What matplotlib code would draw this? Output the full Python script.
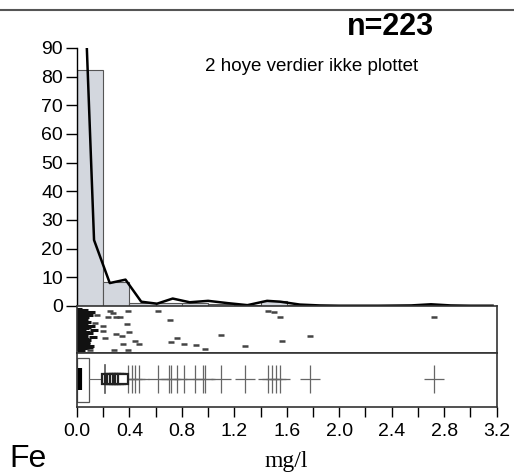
import numpy as np
import matplotlib.pyplot as plt

plt.rcParams["font.family"] = ["Liberation Sans", "DejaVu Sans"]

# ---- data ----
bin_edges = [0.0, 0.2, 0.4, 0.6, 0.8, 1.0, 1.2, 1.4, 1.6, 1.8, 2.0, 2.2, 2.4, 2.6, 2.8, 3.0, 3.2]
bin_pct = [82.5, 8.5, 1.2, 1.0, 1.0, 0.6, 0.4, 1.7, 0.4, 0.0, 0.0, 0.0, 0.0, 0.4, 0.0, 0.0]

dens_x = [0.075, 0.13, 0.25, 0.37, 0.49, 0.61, 0.73, 0.86, 1.0, 1.15, 1.3,
          1.45, 1.55, 1.7, 1.85, 2.0, 2.3, 2.55, 2.7, 2.85, 3.0, 3.17]
dens_y = [90, 23, 8, 9.2, 1.5, 0.8, 2.6, 1.3, 1.8, 1.0, 0.3,
          1.8, 1.5, 0.5, 0.2, 0.1, 0.1, 0.2, 0.6, 0.2, 0.1, 0.1]

# strip plot: dense cluster near zero + scattered higher values (x, jitter y)
cluster_x = [0.01, 0.02, 0.03, 0.05, 0.02, 0.04, 0.07, 0.01, 0.03, 0.06,
             0.09, 0.02, 0.04, 0.01, 0.05, 0.08, 0.03, 0.02, 0.06, 0.11,
             0.01, 0.04, 0.07, 0.03, 0.02, 0.05, 0.09, 0.01, 0.03, 0.06,
             0.12, 0.02, 0.04, 0.08, 0.01, 0.05, 0.03, 0.07, 0.02, 0.10,
             0.04, 0.01, 0.06, 0.03, 0.09, 0.02, 0.05, 0.13, 0.01, 0.04,
             0.07, 0.03, 0.02, 0.08, 0.05, 0.01, 0.04, 0.06, 0.02, 0.11,
             0.01, 0.02, 0.01, 0.03, 0.02, 0.01, 0.04, 0.02, 0.01, 0.03]
cluster_y = [0.97, 0.93, 0.90, 0.95, 0.86, 0.82, 0.88, 0.79, 0.75, 0.78,
             0.84, 0.71, 0.68, 0.64, 0.62, 0.66, 0.58, 0.55, 0.52, 0.57,
             0.49, 0.46, 0.44, 0.41, 0.38, 0.36, 0.40, 0.33, 0.30, 0.27,
             0.32, 0.24, 0.21, 0.25, 0.18, 0.15, 0.12, 0.16, 0.09, 0.11,
             0.06, 0.03, 0.05, 0.02, 0.07, 0.60, 0.72, 0.48, 0.92, 0.35,
             0.20, 0.85, 0.14, 0.56, 0.29, 0.44, 0.68, 0.10, 0.77, 0.91,
             0.88, 0.81, 0.70, 0.63, 0.51, 0.43, 0.34, 0.26, 0.17, 0.08]
strip_x = [0.25, 0.277, 0.39, 0.62, 0.15, 0.24, 0.30, 0.33, 0.14, 0.20,
           0.38, 0.71, 0.20, 0.30, 0.34, 0.40, 0.21, 0.44, 0.35, 0.47,
           0.76, 0.72, 0.82, 0.91, 0.28, 0.39, 0.98, 0.10, 1.46, 1.50,
           1.55, 1.10, 1.78, 1.56, 1.28, 2.72]
strip_y = [0.94, 0.89, 0.93, 0.93, 0.84, 0.78, 0.79, 0.80, 0.64, 0.57,
           0.62, 0.73, 0.47, 0.39, 0.35, 0.44, 0.30, 0.22, 0.15, 0.15,
           0.30, 0.20, 0.16, 0.13, 0.02, 0.02, 0.04, 0.02, 0.94, 0.91,
           0.78, 0.37, 0.35, 0.22, 0.11, 0.79]

# boxplot
box_lo, box_hi, box_med = 0.0, 0.094, 0.02
whisker_hi = 0.21
near_out = [0.23, 0.25, 0.27, 0.29, 0.31, 0.33, 0.35]
far_out = [0.39, 0.42, 0.44, 0.47, 0.62, 0.70, 0.72, 0.76, 0.82, 0.90,
           0.96, 0.98, 1.10, 1.28, 1.46, 1.49, 1.52, 1.55, 1.78, 2.72]

x_ticks = np.arange(0, 3.21, 0.2)
x_labels = [f"{t:.1f}" if i % 2 == 0 else "" for i, t in enumerate(x_ticks)]
y_ticks = list(range(0, 91, 10))

# ---- figure ----
fig = plt.figure(figsize=(5.14, 4.74), dpi=100)
L, W = 77 / 514, 419.5 / 514

ax_h = fig.add_axes([L, 1 - 306 / 474, W, 258 / 474])
ax_s = fig.add_axes([L, 1 - 352.5 / 474, W, 46.5 / 474])
ax_b = fig.add_axes([L, 1 - 406.7 / 474, W, 54.2 / 474])

# histogram + density line
ax_h.bar(bin_edges[:-1], bin_pct, width=0.2, align="edge",
         color="#d3d7de", edgecolor="#555555", linewidth=0.8)
ax_h.plot(dens_x, dens_y, color="black", lw=1.8, solid_joinstyle="round")
ax_h.set_xlim(0, 3.2)
ax_h.set_ylim(0, 90)
ax_h.set_yticks(y_ticks)
ax_h.tick_params(axis="y", direction="out", length=8, width=1, labelsize=14, pad=2)
ax_h.set_xticks([])
for s in ["top", "right", "bottom"]:
    ax_h.spines[s].set_visible(False)
ax_h.spines["left"].set_linewidth(1)
ax_h.patch.set_alpha(0)

# strip panel
ax_s.plot(cluster_x, cluster_y, ls="none", marker="_", ms=6, mew=2.2, color="#111111")
ax_s.plot(strip_x, strip_y, ls="none", marker="_", ms=4, mew=1.8, color="#444444")
ax_s.set_xlim(0, 3.2)
ax_s.set_ylim(-0.05, 1.05)
ax_s.set_xticks([])
ax_s.set_yticks([])
for s in ax_s.spines.values():
    s.set_linewidth(1.2)
    s.set_color("#333333")

# box panel
yc = 0.51
ax_b.add_patch(plt.Rectangle((box_lo, 0.09), box_hi - box_lo, 0.81,
                             fill=False, edgecolor="#555555", lw=0.9))
ax_b.plot([box_med, box_med], [0.31, 0.72], color="black", lw=3, solid_capstyle="butt")
ax_b.plot([box_hi, whisker_hi], [yc, yc], color="#666666", lw=0.8)
ax_b.plot([whisker_hi, whisker_hi], [0.25, 0.77], color="#555555", lw=1.2)
ax_b.plot(far_out, [yc] * len(far_out), ls="none", marker="|", ms=20, mew=0.9, color="#666666")
ax_b.plot(far_out, [yc] * len(far_out), ls="none", marker="_", ms=15, mew=0.9, color="#666666")
ax_b.plot(near_out, [yc] * len(near_out), ls="none", marker="s", ms=7, mew=1.6,
          mfc="white", mec="#222222")
ax_b.set_xlim(0, 3.2)
ax_b.set_ylim(0, 1)
ax_b.set_yticks([])
ax_b.set_xticks(x_ticks)
ax_b.set_xticklabels(x_labels)
ax_b.tick_params(axis="x", direction="out", length=7, width=1, labelsize=14, pad=5)
for s in ax_b.spines.values():
    s.set_linewidth(1.2)
    s.set_color("#333333")

# texts
fig.text(286 / 514, 1 - 461 / 474, "mg/l", ha="center", va="center", fontsize=17,
         family=["Liberation Serif", "DejaVu Serif"])
fig.text(9 / 514, 1 - 459 / 474, "Fe", ha="left", va="center", fontsize=23)
fig.text(390 / 514, 1 - 27 / 474, "n=223", ha="center", va="center", fontsize=22, fontweight="bold")
fig.text(312 / 514, 1 - 67 / 474, "2 hoye verdier ikke plottet", ha="center", va="center", fontsize=13.5)
fig.add_artist(plt.Line2D([0, 1], [1 - 9.5 / 474, 1 - 9.5 / 474], color="#555555", lw=1.5))

fig.savefig("out.png", dpi=100)
